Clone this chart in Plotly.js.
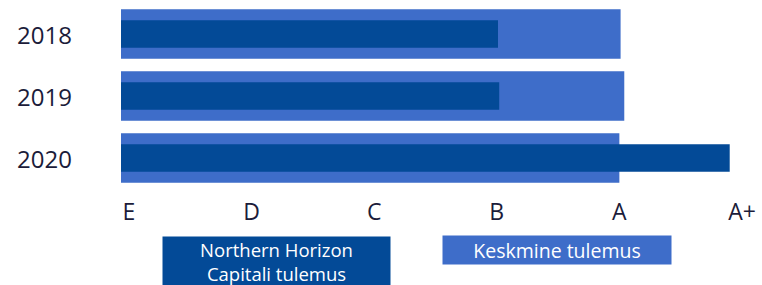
<!DOCTYPE html>
<html>
<head>
<meta charset="utf-8">
<script src="https://cdn.plot.ly/plotly-3.0.1.min.js"></script>
<style>html,body{margin:0;padding:0;background:#fff;}#chart{width:762px;height:285px;}</style>
</head>
<body>
<div id="chart"></div>
<script>
// Data
var years = ['2018', '2019', '2020'];
var averageScore = [4.01, 4.04, 4.0];        // Keskmine tulemus
var nhcScore = [3.01, 3.02, 4.9];            // Northern Horizon Capitali tulemus
var gradeValues = [0, 1, 2, 3, 4, 5];
var gradeLabels = ['E', 'D', 'C', 'B', 'A', 'A+'];
var seriesNames = ['Northern Horizon<br>Capitali tulemus', 'Keskmine tulemus'];

var W = 762, H = 285;
var mL = 121, mR = 20, mT = 3, mB = 96;
var plotW = W - mL - mR, plotH = H - mT - mB;
function px2paperX(p) { return (p - mL) / plotW; }
function px2paperY(p) { return (H - mB - p) / plotH; }

var lightBlue = '#3E6DC9', darkBlue = '#034A97', textCol = '#1B1C3A';
var FONT = '"Open Sans", Roboto, sans-serif';
var barBase = -0.065;

var traces = [
  {
    type: 'bar', orientation: 'h', y: years, x: averageScore.map(function(v){return v - barBase;}),
    base: barBase, width: 0.8, marker: {color: lightBlue}, name: seriesNames[1], hoverinfo: 'skip'
  },
  {
    type: 'bar', orientation: 'h', y: years, x: nhcScore.map(function(v){return v - barBase;}),
    base: barBase, width: 0.44, marker: {color: darkBlue}, name: seriesNames[0], hoverinfo: 'skip'
  }
];

var annotations = years.map(function(y, i){
  return {xref: 'paper', yref: 'y', x: px2paperX(15), y: i, xanchor: 'left', yanchor: 'middle',
    text: y, showarrow: false, font: {family: FONT, size: 24, color: textCol}};
});
annotations.push({
  xref: 'paper', yref: 'paper', x: px2paperX(162), y: px2paperY(236), xanchor: 'left', yanchor: 'top',
  text: seriesNames[0], showarrow: false, bgcolor: darkBlue, width: 227, height: 49, borderpad: 0,
  align: 'center', valign: 'middle', font: {family: FONT, size: 18.5, color: '#ffffff'}
});
annotations.push({
  xref: 'paper', yref: 'paper', x: px2paperX(442), y: px2paperY(235), xanchor: 'left', yanchor: 'top',
  text: seriesNames[1], showarrow: false, bgcolor: lightBlue, width: 228, height: 28, borderpad: 0,
  align: 'center', valign: 'middle', font: {family: FONT, size: 19.5, color: '#ffffff'}
});

var layout = {
  width: W, height: H,
  margin: {l: mL, r: mR, t: mT, b: mB, pad: 0},
  paper_bgcolor: '#ffffff', plot_bgcolor: '#ffffff',
  barmode: 'overlay', showlegend: false, hovermode: false,
  xaxis: {
    range: [barBase, barBase + plotW / 122.6], tickvals: gradeValues, ticktext: gradeLabels,
    showgrid: false, zeroline: false, showline: false, ticks: '', ticklabelstandoff: 7,
    tickfont: {family: FONT, size: 23, color: textCol}, fixedrange: true
  },
  yaxis: {
    type: 'category', range: [2.5, -0.5], showticklabels: false,
    showgrid: false, zeroline: false, showline: false, ticks: '', fixedrange: true
  },
  annotations: annotations
};

Plotly.newPlot('chart', traces, layout, {displayModeBar: false, staticPlot: true});
</script>
</body>
</html>
